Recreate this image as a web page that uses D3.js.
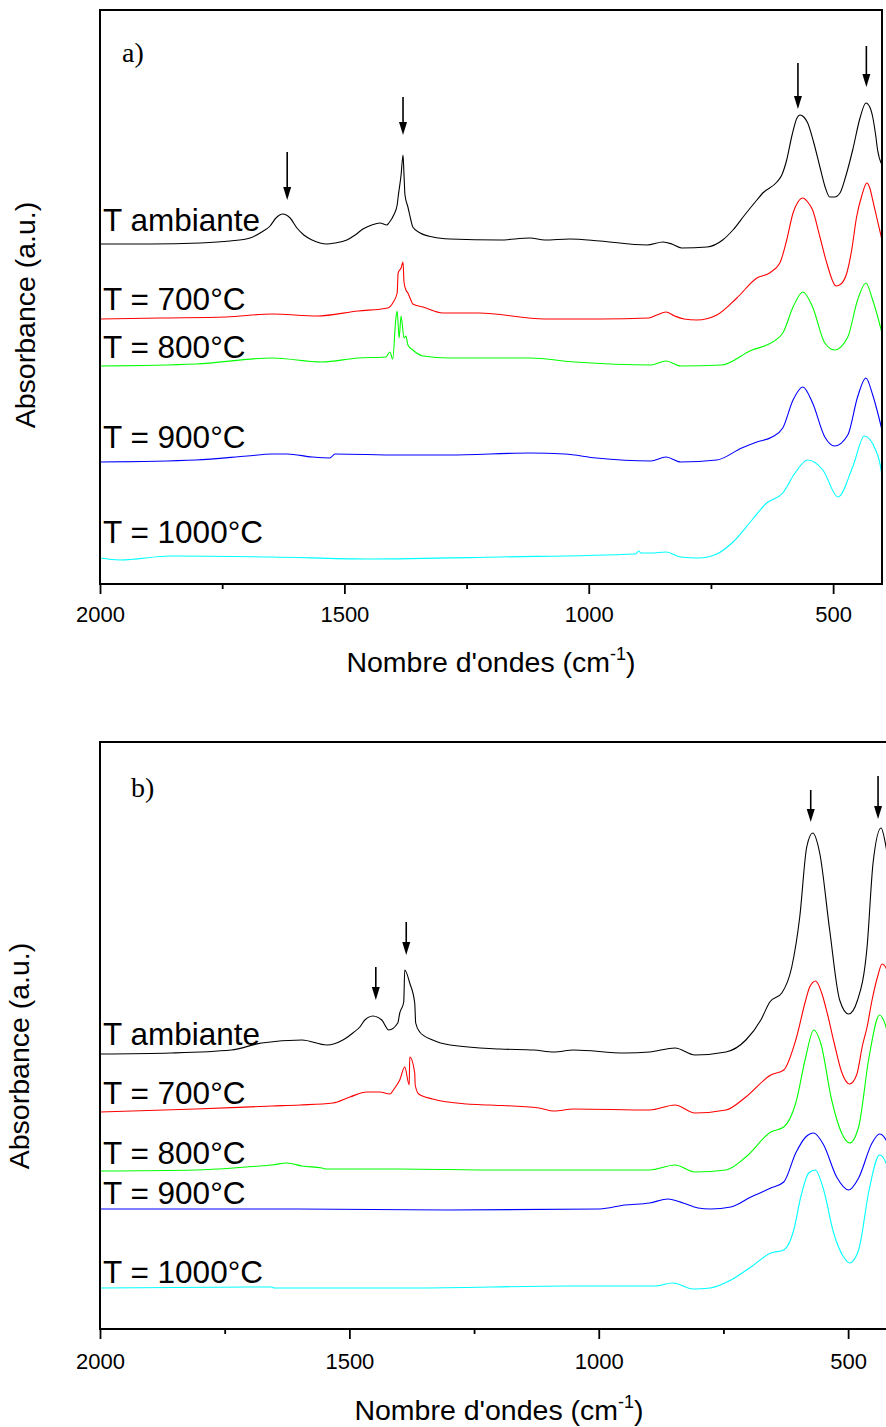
<!DOCTYPE html>
<html><head><meta charset="utf-8">
<script src="https://cdn.jsdelivr.net/npm/d3@7"></script>
<style>body{margin:0;background:#fff}svg{display:block}</style>
</head><body>
<svg id="c" width="886" height="1427"></svg>
<script>
// ---------- data ----------
const seriesLabels = ["T ambiante", "T = 700°C", "T = 800°C", "T = 900°C", "T = 1000°C"];
const seriesColors = ["#000000", "#ff0000", "#00ff00", "#0000ff", "#00ffff"];
const xTicks = [2000, 1500, 1000, 500];
const xMinorTicks = [1750, 1250, 750];
const panelTags = ["a)", "b)"];

// panel a : [wavenumber (cm-1), absorbance (a.u., offset)]
const a_amb = [[2000,3.40],[1898,3.40],[1795,3.41],[1734,3.43],[1693,3.46],[1669,3.52],[1652,3.58],[1640,3.66],[1626,3.70],[1611,3.66],[1597,3.56],[1583,3.49],[1566,3.44],[1550,3.41],[1536,3.40],[1519,3.41],[1495,3.44],[1478,3.49],[1462,3.55],[1444,3.59],[1427,3.61],[1413,3.59],[1409,3.61],[1399,3.69],[1392,3.79],[1390,3.87],[1384,4.09],[1380,4.29],[1378,4.09],[1376,3.89],[1370,3.77],[1364,3.64],[1360,3.57],[1345,3.51],[1319,3.47],[1284,3.45],[1182,3.44],[1120,3.46],[1090,3.44],[1039,3.45],[977,3.43],[881,3.39],[848,3.42],[830,3.40],[810,3.36],[758,3.37],[726,3.44],[705,3.54],[681,3.69],[656,3.84],[644,3.91],[615,4.02],[605,4.09],[595,4.24],[584,4.49],[574,4.66],[568,4.69],[560,4.67],[552,4.61],[540,4.42],[527,4.17],[517,3.98],[507,3.87],[497,3.87],[486,3.91],[474,4.08],[460,4.34],[445,4.66],[433,4.81],[425,4.77],[419,4.67],[413,4.49],[409,4.34],[400,4.19]];
const a_700 = [[2000,2.65],[1877,2.66],[1742,2.67],[1648,2.70],[1556,2.68],[1472,2.73],[1411,2.76],[1401,2.81],[1392,2.91],[1390,3.11],[1384,3.16],[1380,3.22],[1378,3.02],[1374,2.94],[1370,2.91],[1364,2.84],[1360,2.80],[1339,2.77],[1298,2.71],[1225,2.71],[1090,2.65],[977,2.65],[877,2.66],[861,2.69],[842,2.72],[824,2.68],[805,2.65],[779,2.64],[738,2.69],[697,2.86],[656,3.06],[630,3.11],[609,3.21],[595,3.44],[582,3.71],[572,3.82],[562,3.86],[552,3.82],[542,3.74],[527,3.47],[513,3.21],[494,2.98],[484,3.00],[472,3.11],[462,3.34],[452,3.67],[441,3.89],[431,4.01],[425,3.96],[419,3.84],[411,3.67],[400,3.44]];
const a_800 = [[2000,2.18],[1804,2.20],[1648,2.26],[1546,2.22],[1472,2.26],[1415,2.27],[1407,2.32],[1401,2.25],[1395,2.64],[1392,2.73],[1388,2.46],[1384,2.68],[1378,2.46],[1374,2.48],[1370,2.39],[1360,2.34],[1339,2.28],[1286,2.26],[1120,2.26],[1028,2.22],[873,2.19],[842,2.23],[812,2.18],[728,2.19],[666,2.34],[636,2.39],[603,2.51],[582,2.77],[562,2.92],[542,2.77],[517,2.41],[497,2.34],[470,2.47],[450,2.84],[433,3.01],[419,2.84],[400,2.51]];
const a_900 = [[2000,1.22],[1804,1.24],[1699,1.28],[1648,1.30],[1617,1.30],[1566,1.27],[1530,1.26],[1519,1.30],[1390,1.29],[1286,1.29],[1120,1.31],[1049,1.30],[985,1.26],[873,1.23],[842,1.27],[812,1.22],[738,1.24],[687,1.36],[656,1.42],[625,1.47],[603,1.56],[582,1.84],[562,1.97],[542,1.81],[517,1.47],[497,1.38],[470,1.49],[450,1.87],[433,2.06],[419,1.89],[400,1.54]];
const a_1000 = [[2000,0.26],[1959,0.24],[1855,0.28],[1648,0.27],[1452,0.25],[1182,0.27],[904,0.30],[898,0.33],[893,0.31],[873,0.31],[842,0.32],[812,0.27],[775,0.26],[738,0.30],[707,0.41],[666,0.64],[636,0.81],[603,0.91],[578,1.11],[552,1.24],[521,1.14],[490,0.87],[460,1.17],[436,1.48],[413,1.34],[401,1.11],[400,0.28]];

// panel b
const b_amb = [[2000,2.75],[1858,2.76],[1737,2.79],[1676,2.86],[1595,2.89],[1545,2.84],[1513,2.89],[1493,2.96],[1479,3.02],[1469,3.09],[1453,3.13],[1435,3.09],[1421,2.99],[1403,3.06],[1399,3.16],[1391,3.27],[1389,3.59],[1379,3.46],[1369,3.26],[1367,3.06],[1359,2.97],[1333,2.89],[1298,2.84],[1198,2.80],[1130,2.79],[1090,2.77],[1050,2.79],[948,2.76],[898,2.77],[847,2.81],[807,2.74],[745,2.77],[705,2.89],[675,3.09],[657,3.27],[633,3.36],[613,3.62],[597,4.12],[583,4.82],[571,4.96],[557,4.76],[537,3.99],[517,3.29],[499,3.15],[481,3.29],[462,3.82],[450,4.66],[434,5.01],[424,4.82],[410,4.30]];
const b_700 = [[2000,2.17],[1808,2.20],[1655,2.23],[1599,2.24],[1533,2.26],[1499,2.32],[1465,2.37],[1439,2.37],[1419,2.35],[1409,2.41],[1399,2.49],[1389,2.62],[1380,2.44],[1379,2.72],[1369,2.56],[1368,2.44],[1361,2.35],[1333,2.30],[1264,2.25],[1220,2.24],[1120,2.21],[1090,2.18],[1050,2.20],[898,2.19],[847,2.24],[807,2.16],[745,2.19],[705,2.32],[655,2.54],[629,2.59],[605,2.89],[585,3.29],[577,3.42],[565,3.48],[553,3.36],[541,3.14],[527,2.84],[513,2.57],[497,2.45],[483,2.54],[471,2.84],[462,3.02],[452,3.29],[440,3.54],[432,3.65],[424,3.61],[410,3.30]];
const b_800 = [[2000,1.58],[1808,1.59],[1707,1.62],[1655,1.64],[1625,1.66],[1595,1.63],[1555,1.61],[1545,1.60],[1403,1.60],[1200,1.59],[998,1.59],[898,1.59],[847,1.64],[807,1.57],[745,1.59],[705,1.72],[655,1.97],[629,2.02],[605,2.26],[585,2.72],[569,2.99],[555,2.86],[533,2.29],[513,1.96],[497,1.86],[479,2.02],[458,2.72],[437,3.14],[424,3.02],[410,2.70]];
const b_900 = [[2000,1.20],[1605,1.20],[1302,1.19],[998,1.20],[948,1.24],[898,1.26],[861,1.30],[831,1.26],[801,1.21],[776,1.20],[735,1.22],[695,1.32],[655,1.41],[629,1.47],[605,1.76],[585,1.92],[569,1.96],[549,1.84],[523,1.52],[499,1.39],[479,1.51],[452,1.86],[437,1.95],[424,1.89],[410,1.70]];
const b_1000 = [[2000,0.41],[1655,0.42],[1651,0.41],[1373,0.41],[1060,0.43],[888,0.43],[851,0.46],[811,0.40],[776,0.41],[735,0.49],[695,0.62],[655,0.76],[629,0.79],[609,0.99],[595,1.32],[579,1.56],[566,1.59],[549,1.39],[529,0.96],[509,0.72],[497,0.66],[479,0.79],[458,1.39],[437,1.74],[424,1.66],[410,1.40]];

// arrows: [wavenumber, tip absorbance, tail absorbance]
const arrowsA = [[1617,3.84,4.32],[1380,4.49,4.87],[572,4.75,5.21],[432,4.97,5.38]];
const arrowsB = [[1447,3.29,3.62],[1386,3.74,4.07],[575,5.07,5.39],[440,5.10,5.53]];

// ---------- drawing ----------
const svg = d3.select("#c");
const SANS = "'Liberation Sans', Arial, Helvetica, sans-serif";
const SERIF = "'Liberation Serif', 'Times New Roman', serif";

function drawPanel(cfg, idx) {
  const x = d3.scaleLinear().domain([2000, 400]).range([100, cfg.right]);
  const y = d3.scaleLinear().domain([0, cfg.yMax]).range([cfg.bottom, cfg.top]);
  const g = svg.append("g");
  const clipId = "clip" + idx;
  g.append("clipPath").attr("id", clipId).append("rect")
    .attr("x", 100).attr("y", cfg.top).attr("width", cfg.right - 100).attr("height", cfg.bottom - cfg.top);

  const line = d3.line().x(d => x(d[0])).y(d => y(d[1])).curve(d3.curveMonotoneX);
  const lg = g.append("g").attr("clip-path", `url(#${clipId})`);
  cfg.series.forEach((s, i) => {
    lg.append("path").datum(s).attr("d", line)
      .attr("fill", "none").attr("stroke", seriesColors[i]).attr("stroke-width", 1.1)
      .attr("stroke-linejoin", "round");
  });

  // arrows
  cfg.arrows.forEach(a => {
    const ax = x(a[0]), tip = y(a[1]), tail = y(a[2]);
    g.append("line").attr("x1", ax).attr("x2", ax).attr("y1", tail).attr("y2", tip - 10)
      .attr("stroke", "#000").attr("stroke-width", 1.6);
    g.append("path").attr("d", `M${ax - 4},${tip - 13}L${ax + 4},${tip - 13}L${ax},${tip}Z`).attr("fill", "#000");
  });

  // frame
  g.append("rect").attr("x", 100).attr("y", cfg.top).attr("width", cfg.right - 100).attr("height", cfg.bottom - cfg.top)
    .attr("fill", "none").attr("stroke", "#000").attr("stroke-width", 2);

  // axes
  const ax = g.append("g").attr("transform", `translate(0,${cfg.bottom})`)
    .call(d3.axisBottom(x).tickValues(xTicks).tickSize(10).tickSizeOuter(0).tickPadding(cfg.pad).tickFormat(d3.format("d")));
  ax.select(".domain").remove();
  ax.selectAll("line").attr("stroke-width", 1.8);
  ax.selectAll("text").attr("font-family", SANS).attr("font-size", 22).attr("fill", "#000");
  const mx = g.append("g").attr("transform", `translate(0,${cfg.bottom})`)
    .call(d3.axisBottom(x).tickValues(xMinorTicks).tickSize(5).tickFormat(""));
  mx.select(".domain").remove();
  mx.selectAll("line").attr("stroke-width", 1.8);

  // series labels
  seriesLabels.forEach((t, i) => {
    g.append("text").attr("x", 103).attr("y", y(cfg.labelY[i])).text(t)
      .attr("font-family", SANS).attr("font-size", 31.5).attr("fill", "#000");
  });

  // tag
  g.append("text").attr("x", cfg.tagX).attr("y", cfg.tagY).text(panelTags[idx])
    .attr("font-family", SERIF).attr("font-size", 28).attr("fill", "#000");

  // x title
  const xt = g.append("text").attr("x", (100 + cfg.right) / 2).attr("y", cfg.xTitleY)
    .attr("text-anchor", "middle").attr("font-family", SANS).attr("font-size", 28.5).attr("fill", "#000");
  xt.append("tspan").text("Nombre d'ondes (cm");
  xt.append("tspan").text("-1").attr("font-size", 18).attr("dy", -12);
  xt.append("tspan").text(")").attr("dy", 12);

  // y title
  g.append("text").attr("transform", `translate(${cfg.yTitleX},${cfg.yTitleY}) rotate(-90)`)
    .attr("text-anchor", "middle").attr("font-family", SANS).attr("font-size", 28.5).attr("fill", "#000")
    .text("Absorbance (a.u.)");
}

drawPanel({top: 10, bottom: 584, right: 882, yMax: 5.74, pad: 12.5,
  series: [a_amb, a_700, a_800, a_900, a_1000], arrows: arrowsA,
  labelY: [3.53, 2.74, 2.26, 1.36, 0.41], tagX: 122, tagY: 62,
  xTitleY: 672, yTitleX: 35, yTitleY: 315}, 0);

drawPanel({top: 742, bottom: 1329, right: 898, yMax: 5.87, pad: 14,
  series: [b_amb, b_700, b_800, b_900, b_1000], arrows: arrowsB,
  labelY: [2.84, 2.25, 1.65, 1.25, 0.46], tagX: 131, tagY: 797,
  xTitleY: 1420, yTitleX: 29, yTitleY: 1056}, 1);
</script>
</body></html>
